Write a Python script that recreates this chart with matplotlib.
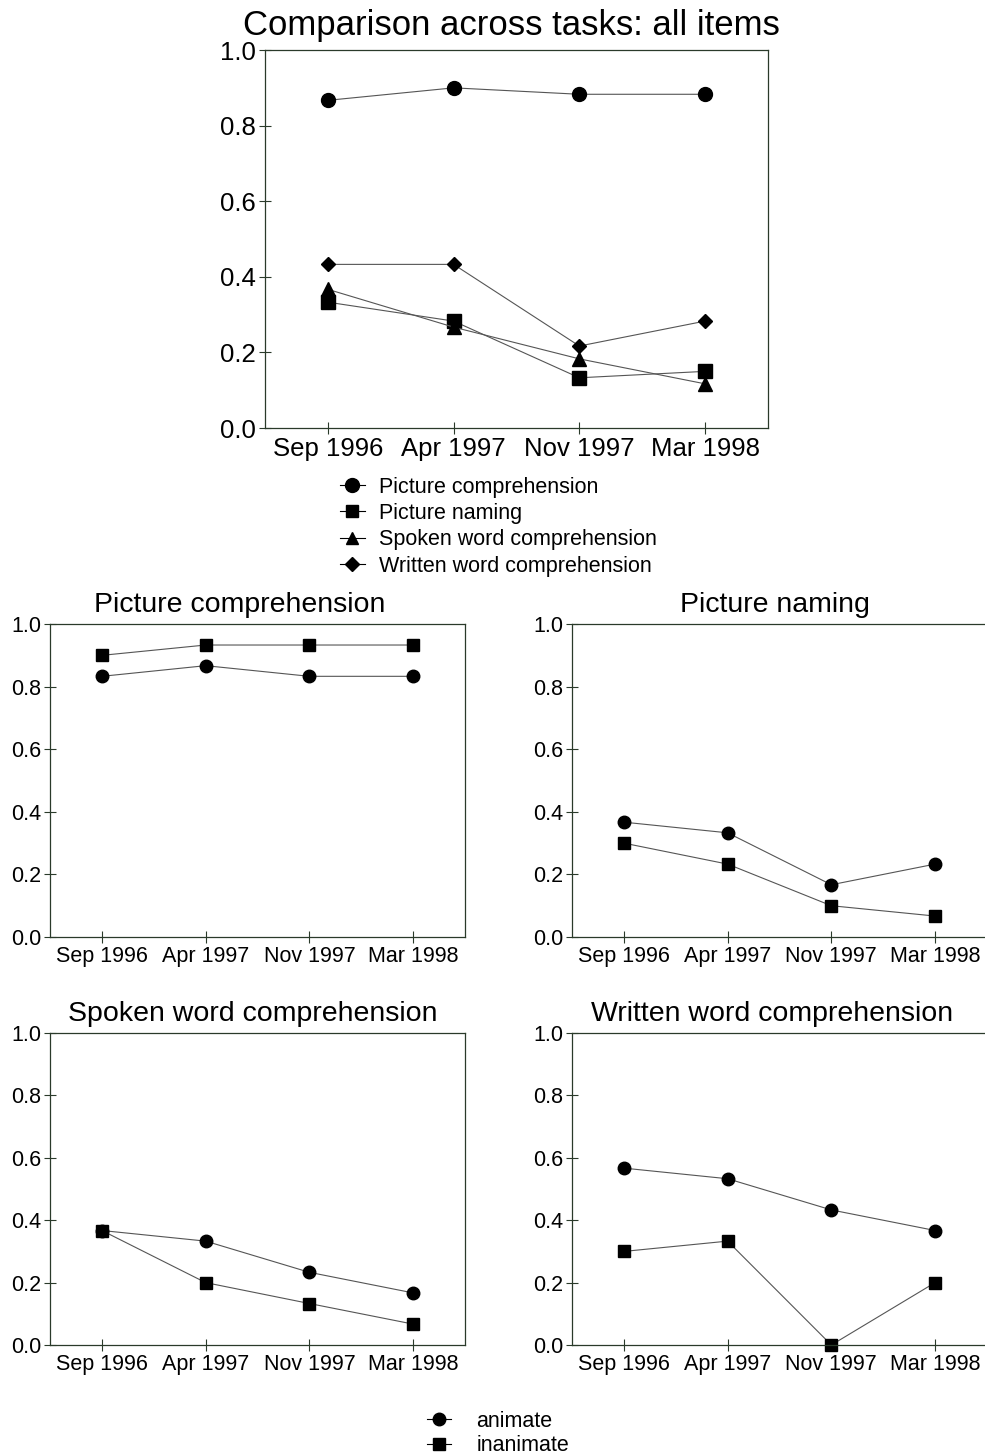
import matplotlib
matplotlib.use('Agg')
import matplotlib.pyplot as plt
from matplotlib.lines import Line2D

plt.rcParams['font.family'] = ['Liberation Sans', 'DejaVu Sans']

# data
sessions = ["Sep 1996", "Apr 1997", "Nov 1997", "Mar 1998"]

all_pic_comp = [0.867, 0.900, 0.883, 0.883]
all_pic_naming = [0.333, 0.283, 0.133, 0.150]
all_spoken = [0.367, 0.267, 0.183, 0.117]
all_written = [0.433, 0.433, 0.217, 0.283]

pc_animate = [0.833, 0.867, 0.833, 0.833]
pc_inanimate = [0.900, 0.933, 0.933, 0.933]
pn_animate = [0.367, 0.333, 0.167, 0.233]
pn_inanimate = [0.300, 0.233, 0.100, 0.067]
sw_animate = [0.367, 0.333, 0.233, 0.167]
sw_inanimate = [0.367, 0.200, 0.133, 0.067]
ww_animate = [0.567, 0.533, 0.433, 0.367]
ww_inanimate = [0.300, 0.333, 0.000, 0.200]

line_col = '#555555'
spine_col = '#2a3a2a'


def style_axes(ax, tick_size):
    ax.set_xlim(-0.5, 3.5)
    ax.set_ylim(0, 1.0)
    ax.set_xticks(range(len(sessions)))
    ax.set_xticklabels(sessions)
    ax.set_yticks([0.0, 0.2, 0.4, 0.6, 0.8, 1.0])
    ax.set_yticklabels(['0.0', '0.2', '0.4', '0.6', '0.8', '1.0'])
    ax.tick_params(direction='inout', length=9, width=0.8, color=spine_col,
                   labelsize=tick_size, pad=2)
    for s in ax.spines.values():
        s.set_color(spine_col)
        s.set_linewidth(0.9)


fig = plt.figure(figsize=(9.85, 14.55), dpi=100)

# top panel
ax = fig.add_axes([0.2690, 0.7058, 0.5107, 0.2598])
x = range(len(sessions))
ax.plot(x, all_pic_comp, marker='o', ms=10, lw=0.8)
ax.plot(x, all_pic_naming, marker='s', ms=10, lw=0.8)
ax.plot(x, all_spoken, marker='^', ms=10, lw=0.8)
ax.plot(x, all_written, marker='D', ms=7.5, lw=0.8)
for l in ax.lines:
    l.set_color(line_col)
    l.set_markerfacecolor('black')
    l.set_markeredgecolor('black')
style_axes(ax, 18.5)
ax.set_title("Comparison across tasks: all items", fontsize=25, pad=11, x=0.49)

handles = [
    Line2D([], [], color='black', lw=0.8, marker='o', ms=10),
    Line2D([], [], color='black', lw=0.8, marker='s', ms=9),
    Line2D([], [], color='black', lw=0.8, marker='^', ms=9),
    Line2D([], [], color='black', lw=0.8, marker='D', ms=7),
]
labels = ["Picture comprehension", "Picture naming",
          "Spoken word comprehension", "Written word comprehension"]
fig.legend(handles, labels, loc='upper left', bbox_to_anchor=(0.345, 0.6725),
           frameon=False, fontsize=15.5, handlelength=1.15, handletextpad=0.65,
           labelspacing=0.25, borderpad=0, borderaxespad=0)

# small panels
panels = [
    ("Picture comprehension", pc_animate, pc_inanimate, [0.0508, 0.3560, 0.4213, 0.2151], 0.458),
    ("Picture naming", pn_animate, pn_inanimate, [0.5807, 0.3560, 0.4213, 0.2151], 0.488),
    ("Spoken word comprehension", sw_animate, sw_inanimate, [0.0508, 0.0756, 0.4213, 0.2144], 0.489),
    ("Written word comprehension", ww_animate, ww_inanimate, [0.5807, 0.0756, 0.4213, 0.2144], 0.483),
]
for title, anim, inanim, rect, tx in panels:
    a = fig.add_axes(rect)
    a.plot(x, anim, marker='o', ms=9, color=line_col, mfc='black', mec='black', lw=0.8)
    a.plot(x, inanim, marker='s', ms=8.5, color=line_col, mfc='black', mec='black', lw=0.8,
           clip_on=False)
    style_axes(a, 15.5)
    a.set_title(title, fontsize=20.5, pad=9, x=tx)

handles2 = [
    Line2D([], [], color='black', lw=0.8, marker='o', ms=9),
    Line2D([], [], color='black', lw=0.8, marker='s', ms=8),
]
fig.legend(handles2, ["animate", "inanimate"], loc='upper left',
           bbox_to_anchor=(0.4335, 0.0303), frameon=False, fontsize=15.5,
           handlelength=1.1, handletextpad=1.2, labelspacing=0.15,
           borderpad=0, borderaxespad=0)

fig.savefig('out.png', dpi=100)
